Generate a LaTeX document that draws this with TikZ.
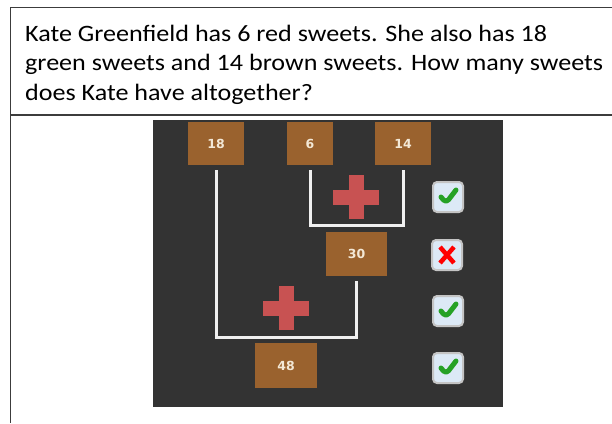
\documentclass[tikz,border=0pt]{standalone}
\usepackage{fontspec}
\setmainfont{Carlito}[FakeStretch=1.11]
\newfontfamily\numfont{DejaVu Sans}
\usepackage{xcolor}
\usetikzlibrary{arrows.meta,positioning}

\definecolor{panelgrey}{HTML}{333333}
\definecolor{sweetbrown}{HTML}{9A622E}
\definecolor{cream}{HTML}{F3E8D6}
\definecolor{plusred}{HTML}{C85252}
\definecolor{framegrey}{HTML}{3C3C3C}
\definecolor{tickgreen}{HTML}{25A125}
\definecolor{boxblue}{HTML}{DCE9F6}
\definecolor{boxrim}{HTML}{C4C4C4}

\begin{document}
\begin{tikzpicture}[
    x=1pt, y=-1pt,
    frame/.style={draw=framegrey, line width=1.5pt},
    numbox/.style={fill=sweetbrown, text=cream, font=\numfont\bfseries\fontsize{12.5}{14}\selectfont, minimum height=43pt, minimum width=56pt, inner sep=0pt},
    bracket/.style={draw=white!94!black, line width=3pt, shorten <=5pt, shorten >=5pt},
    tickbox/.style={draw=boxrim, line width=2pt, fill=boxblue, rounded corners=4pt, minimum width=30pt, minimum height=30pt, inner sep=0pt},
    tickok/.style={tickbox, path picture={
        \draw[tickgreen, line width=5pt, line cap=round, line join=round]
          ([shift={(-7pt,0pt)}]path picture bounding box.center) -- ++(5pt,-6pt) -- ++(10pt,13pt);}},
    tickno/.style={tickbox, path picture={
        \draw[red, line width=4.5pt]
          ([shift={(-7pt,-8pt)}]path picture bounding box.center) -- ++(14pt,16pt)
          ([shift={(7pt,-8pt)}]path picture bounding box.center) -- ++(-14pt,16pt);}},
    addsign/.pic={
        \fill[plusred] (-23,-7.5) rectangle (23,7.5);
        \fill[plusred] (-7.5,-22) rectangle (7.5,22);}
  ]
    \useasboundingbox (0,0) rectangle (612,423);

    % question box
    \draw[frame] (612,7.5) -- (10.5,7.5) -- (10.5,423);
    \draw[frame, line width=2.2pt] (10.5,115) -- (612,115);
    \node[anchor=base west, align=left, inner sep=0pt, font=\fontsize{23.5}{29.5}\selectfont] (question) at (25,100)
      {Kate Greenfield has 6 red sweets. She also has 18\\
       green sweets and 14 brown sweets. How many sweets\\
       does Kate have altogether?};

    % dark panel
    \fill[panelgrey] (153,120) rectangle (503,407);

    \node[numbox] (n18) at (216,143.5) {18};
    \node[numbox, minimum width=46pt] (n6) at (310,143.5) {6};
    \node[numbox] (n14) at (403,143.5) {14};
    \node[numbox, minimum width=61pt, minimum height=44pt] (n30) at (356.5,254) {30};
    \node[numbox, minimum width=62pt, minimum height=45pt] (n48) at (286,365.5) {48};

    \coordinate (join1) at (356,225);
    \coordinate (join2) at (286,337);
    \draw[bracket] (n6.south) |- (join1) -| (n14.south);
    \draw[bracket] (n18.south) |- (join2) -| (n30.south);

    \pic at (356,197) {addsign};
    \pic at (286,308) {addsign};

    \node[tickok] (check1) at (448,197) {};
    \node[tickno] (check2) at (447,255) {};
    \node[tickok] (check3) at (448,311) {};
    \node[tickok] (check4) at (448,368) {};
  \end{tikzpicture}
\end{document}
